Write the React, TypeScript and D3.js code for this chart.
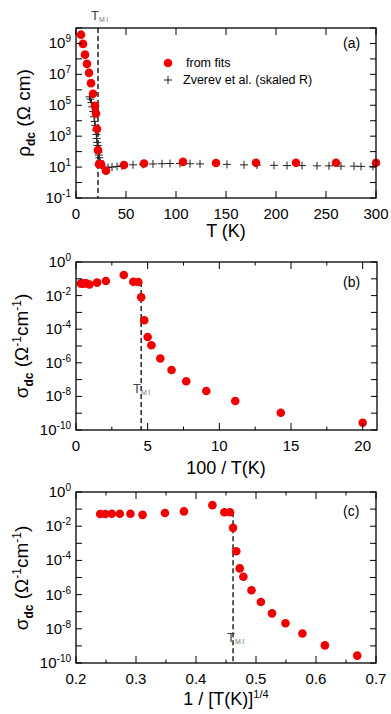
import React from "react";
import * as d3 from "d3";

// fitted points: temperature (K) and dc conductivity (Ohm^-1 cm^-1)
const fitT = [300, 260, 220, 180, 140, 107, 68, 48, 30, 25, 23, 22, 21, 20, 19, 17, 15, 13, 11, 9, 7, 5];
const fitSigma = [
  0.052, 0.052, 0.053, 0.053, 0.054, 0.046, 0.059, 0.074, 0.17, 0.066, 0.065, 0.008,
  3.4e-4, 3.4e-5, 1.1e-5, 1.8e-6, 3.7e-7, 8e-8, 2.1e-8, 5.3e-9, 1.07e-9, 2.7e-10,
];

// Zverev et al. resistivity curve (skaled R)
const zverevT = [
  13.5, 14.5, 15.5, 16.3, 17.2, 18, 18.7, 19.3, 19.8, 20.3, 20.7, 21.1, 21.5, 21.9, 22.3, 22.8,
  23.3, 24, 24.6, 25.5, 28, 32, 36, 41, 46, 57, 67, 77, 86, 94, 104, 114, 124, 151, 168, 181,
  198, 211, 226, 241, 253, 265, 278, 285, 297,
];
const zverevRho = [
  3.5e5, 2.5e5, 1.5e5, 8e4, 4e4, 1.8e4, 9e3, 5e3, 2.5e3, 1.3e3, 700, 400, 250, 150, 90, 60,
  40, 25, 17, 13, 9, 9.5, 10, 11, 12, 14, 15, 16, 16.5, 17, 17, 16.5, 16, 15, 14, 13.5,
  13, 12.5, 12.5, 12, 12, 11.5, 11.5, 11, 11,
];

const tMI = 22;

const tTicks = [0, 50, 100, 150, 200, 250, 300];
const invTTicks = [0, 5, 10, 15, 20];
const quarterTicks = [0.2, 0.3, 0.4, 0.5, 0.6, 0.7];
const rhoLabelExps = [-1, 1, 3, 5, 7, 9];
const sigmaLabelExps = [-10, -8, -6, -4, -2, 0];

const RED = "#f00000";
const FONT = "'Liberation Sans', Arial, sans-serif";
const LEFT = 76;
const RIGHT = 376;

const Pow10 = ({ x, y, e }: { x: number; y: number; e: number }) => (
  <text x={x} y={y} textAnchor="end" fontSize={15}>
    10<tspan dy={-6} fontSize={10}>{e}</tspan>
  </text>
);

// box with inward ticks on all four sides
const Frame = ({ x, y, major, minor, labels, fmt, labelExps }: any) => {
  const [xl, xr] = x.range();
  const [yb, yt] = y.range();
  const [lo, hi] = y.domain().map((v: number) => Math.round(Math.log10(v)));
  const decades = d3.range(lo, hi + 1);
  return (
    <g>
      {major.map((v: number) => (
        <g key={"M" + v}>
          <line x1={x(v)} x2={x(v)} y1={yb} y2={yb - 7} stroke="#000" />
          <line x1={x(v)} x2={x(v)} y1={yt} y2={yt + 7} stroke="#000" />
        </g>
      ))}
      {minor.map((v: number) => (
        <g key={"m" + v}>
          <line x1={x(v)} x2={x(v)} y1={yb} y2={yb - 3.5} stroke="#000" />
          <line x1={x(v)} x2={x(v)} y1={yt} y2={yt + 3.5} stroke="#000" />
        </g>
      ))}
      {decades.map((e: number) => (
        <g key={"d" + e}>
          <line x1={xl} x2={xl + 6} y1={y(10 ** e)} y2={y(10 ** e)} stroke="#000" />
          <line x1={xr} x2={xr - 6} y1={y(10 ** e)} y2={y(10 ** e)} stroke="#000" />
        </g>
      ))}
      <rect x={xl} y={yt} width={xr - xl} height={yb - yt} fill="none" stroke="#000" strokeWidth={1.3} />
      {labels.map((v: number) => (
        <text key={"l" + v} x={x(v)} y={yb + 21} textAnchor="middle" fontSize={15}>
          {fmt(v)}
        </text>
      ))}
      {labelExps.map((e: number) => (
        <Pow10 key={"e" + e} x={71} y={y(10 ** e) + 5} e={e} />
      ))}
    </g>
  );
};

const TMI = ({ x, y }: { x: number; y: number }) => (
  <text x={x} y={y} fontSize={13} fill="#444">
    T<tspan dy={2} fontSize={7} fill="#777" letterSpacing={1.5}>MI</tspan>
  </text>
);

const Dashed = ({ x, y1, y2 }: { x: number; y1: number; y2: number }) => (
  <line x1={x} x2={x} y1={y1} y2={y2} stroke="#000" strokeWidth={1.3} strokeDasharray="5,3" />
);

const cross = "M-4,0H4M0,-4V4";

export default function App() {
  const pts = fitT.map((t, i) => ({ t, s: fitSigma[i] }));
  const zv = zverevT.map((t, i) => ({ t, r: zverevRho[i] }));

  // (a) resistivity vs T
  const xa = d3.scaleLinear().domain([0, 300]).range([LEFT, RIGHT]);
  const ya = d3.scaleLog().domain([0.1, 1e10]).range([198, 28]);

  // (b) conductivity vs 100/T
  const xb = d3.scaleLinear().domain([0, 21]).range([LEFT, 377]);
  const yb = d3.scaleLog().domain([1e-10, 1]).range([430, 262]);

  // (c) conductivity vs T^-1/4
  const xc = d3.scaleLinear().domain([0.2, 0.7]).range([LEFT, RIGHT]);
  const yc = d3.scaleLog().domain([1e-10, 1]).range([663, 492]);

  const q = (t: number) => Math.pow(t, -0.25);

  return (
    <svg
      width={391}
      height={714}
      style={{ position: "absolute", left: 0, top: 0, background: "#fff" }}
      fontFamily={FONT}
    >
      {/* ---- (a) ---- */}
      <Dashed x={xa(tMI)} y1={28} y2={198} />
      <TMI x={91} y={20} />
      {zv.map((d, i) => (
        <path key={i} d={cross} transform={`translate(${xa(d.t)},${ya(d.r)})`} stroke="#222" strokeWidth={1} />
      ))}
      {pts.map((d, i) => (
        <circle key={i} cx={xa(d.t)} cy={ya(1 / d.s)} r={4.3} fill={RED} />
      ))}
      <Frame x={xa} y={ya} major={tTicks} minor={[]} labels={tTicks} fmt={(v: number) => v} labelExps={rhoLabelExps} />
      <circle cx={168} cy={63} r={4.3} fill={RED} />
      <text x={186} y={67} fontSize={12.5}>from fits</text>
      <path d={cross} transform="translate(168,80)" stroke="#222" />
      <text x={183} y={84} fontSize={12.5}>Zverev et al. (skaled R)</text>
      <text x={343} y={48} fontSize={14}>(a)</text>
      <text x={226} y={237} textAnchor="middle" fontSize={18}>T (K)</text>
      <text transform="translate(30,113) rotate(-90)" textAnchor="middle" fontSize={19}>
        ρ<tspan dy={5} fontSize={12} fontWeight="bold">dc</tspan>
        <tspan dy={-5}> (Ω cm)</tspan>
      </text>

      {/* ---- (b) ---- */}
      <Dashed x={xb(100 / tMI)} y1={yb(0.065)} y2={430} />
      <TMI x={133} y={393} />
      {pts.map((d, i) => (
        <circle key={i} cx={xb(100 / d.t)} cy={yb(d.s)} r={4.3} fill={RED} />
      ))}
      <Frame
        x={xb}
        y={yb}
        major={invTTicks}
        minor={[2.5, 7.5, 12.5, 17.5]}
        labels={invTTicks}
        fmt={(v: number) => v}
        labelExps={sigmaLabelExps}
      />
      <text x={343} y={287} fontSize={14}>(b)</text>
      <text x={226} y={474} textAnchor="middle" fontSize={18}>100 / T(K)</text>
      <text transform="translate(28,346) rotate(-90)" textAnchor="middle" fontSize={19}>
        σ<tspan dy={5} fontSize={12} fontWeight="bold">dc</tspan>
        <tspan dy={-5}> (Ω</tspan>
        <tspan dy={-7} fontSize={12}>-1</tspan>
        <tspan dy={7}>cm</tspan>
        <tspan dy={-7} fontSize={12}>-1</tspan>
        <tspan dy={7}>)</tspan>
      </text>

      {/* ---- (c) ---- */}
      <Dashed x={xc(q(tMI))} y1={yc(0.065)} y2={663} />
      <TMI x={227} y={642} />
      {pts.map((d, i) => (
        <circle key={i} cx={xc(q(d.t))} cy={yc(d.s)} r={4.3} fill={RED} />
      ))}
      <Frame
        x={xc}
        y={yc}
        major={quarterTicks}
        minor={[0.25, 0.35, 0.45, 0.55, 0.65]}
        labels={quarterTicks}
        fmt={(v: number) => d3.format(".1f")(v)}
        labelExps={sigmaLabelExps}
      />
      <text x={343} y={516} fontSize={14}>(c)</text>
      <text x={226} y={705} textAnchor="middle" fontSize={18}>
        1 / [T(K)]<tspan dy={-7} fontSize={11}>1/4</tspan>
      </text>
      <text transform="translate(28,578) rotate(-90)" textAnchor="middle" fontSize={19}>
        σ<tspan dy={5} fontSize={12} fontWeight="bold">dc</tspan>
        <tspan dy={-5}> (Ω</tspan>
        <tspan dy={-7} fontSize={12}>-1</tspan>
        <tspan dy={7}>cm</tspan>
        <tspan dy={-7} fontSize={12}>-1</tspan>
        <tspan dy={7}>)</tspan>
      </text>
    </svg>
  );
}
